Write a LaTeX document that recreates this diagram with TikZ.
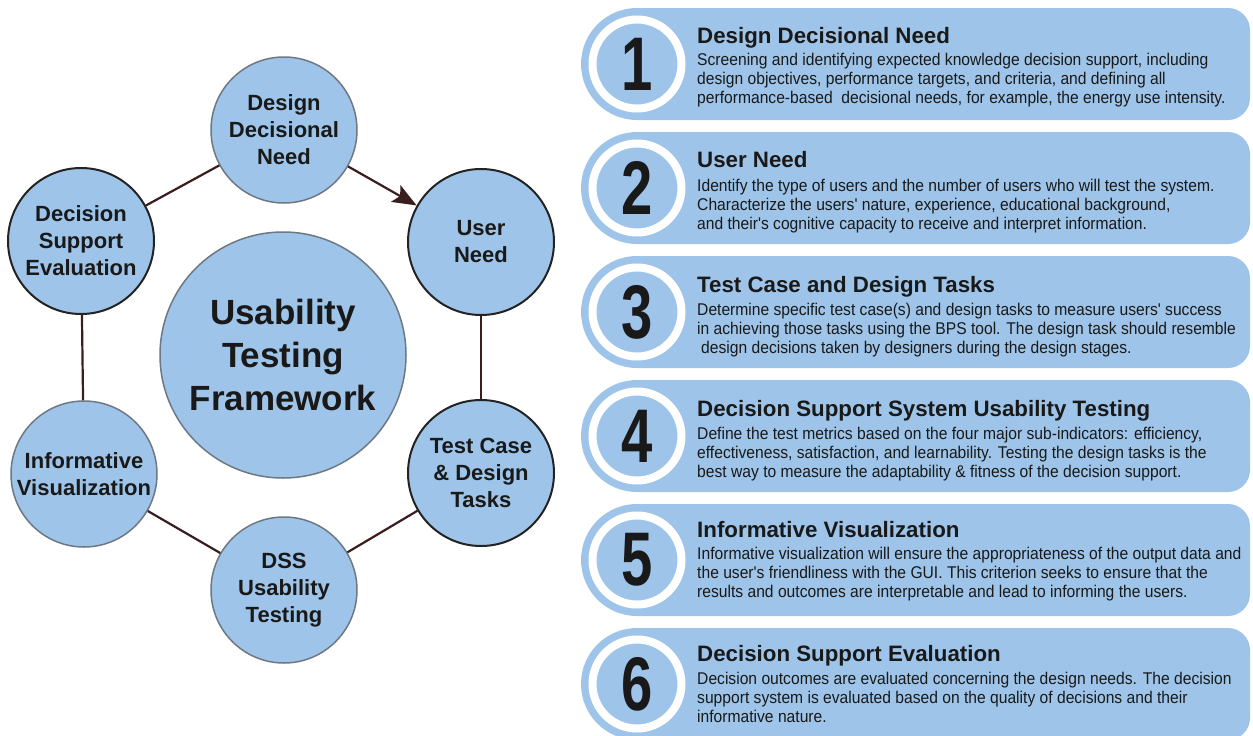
\documentclass[tikz,border=0pt]{standalone}
\usepackage{fontspec}
\setmainfont{Liberation Sans}
\newfontfamily\digitfamily{Liberation Sans}[FakeStretch=0.74]
\newfontfamily\bodyfamily{Liberation Sans}[FakeStretch=0.92]
\usetikzlibrary{arrows.meta}
\definecolor{cblue}{RGB}{158,197,233}
\definecolor{conn}{RGB}{58,30,30}
\definecolor{greyedge}{RGB}{110,120,130}
\definecolor{darkedge}{RGB}{35,35,35}
\definecolor{ink}{RGB}{25,25,25}
\newcommand{\titlefnt}{\fontsize{22.3}{26}\selectfont\bfseries}
\newcommand{\bodyfnt}{\bodyfamily\fontsize{17}{19.2}\selectfont}
\tikzset{
  hub/.style={circle, fill=cblue, draw=greyedge, line width=1.5pt, minimum size=146pt, inner sep=0pt, align=center, text=ink, font=\fontsize{22}{27}\selectfont\bfseries},
  hubdark/.style={hub, draw=darkedge, line width=2pt},
  core/.style={circle, fill=cblue, draw=greyedge, line width=1.5pt, minimum size=246pt, inner sep=0pt, align=center, text=ink, font=\fontsize{35}{43}\selectfont\bfseries},
  link/.style={draw=conn, line width=2.2pt},
  numtxt/.style={text=ink, font=\digitfamily\fontsize{76}{76}\selectfont\bfseries, inner sep=0pt},
  ttl/.style={anchor=base west, inner sep=0pt, text=ink, font=\titlefnt},
  bodytxt/.style={anchor=north west, inner sep=0pt, align=left, text=ink, font=\bodyfnt},
}
\begin{document}
\begin{tikzpicture}[x=1pt,y=-1pt]
\useasboundingbox (0,0) rectangle (1253,736);
\fill[white] (0,0) rectangle (1253,736);

% left cycle
\node[core] (core) at (283,355) {Usability\\Testing\\Framework};
\node[hub] (ddn) at (284,130) {Design\\Decisional\\Need};
\node[hubdark] (un) at (481,242) {User\\Need};
\node[hubdark] (tc) at (481,473) {Test Case\\\& Design\\Tasks};
\node[hub] (dss) at (284,590) {DSS\\Usability\\Testing};
\node[hub] (iv) at (84,474) {Informative\\Visualization};
\node[hubdark] (dse) at (81,241) {Decision\\Support\\Evaluation};

\draw[link,-{Stealth[length=24pt,width=19pt,inset=5pt]}] (ddn) -- (un);
\draw[link] (un) -- (tc);
\draw[link] (tc) -- (dss);
\draw[link] (dss) -- (iv);
\draw[link] (iv) -- (dse);
\draw[link] (dse) -- (ddn);

% right panels
\foreach \k/\num in {0/1,1/2,2/3,3/4,4/5,5/6}{
  \pgfmathsetmacro{\top}{8+124*\k}
  \pgfmathsetmacro{\bot}{\top+112}
  \pgfmathsetmacro{\mid}{\top+56}
  \fill[cblue, rounded corners=22pt] (615,\top) rectangle (1250,\bot);
  \fill[cblue] (637,\mid) circle (56);
  \draw[white, line width=8pt] (637,\mid) circle (44.5);
  \node[numtxt] (n\num) at (637,\mid) {\num};
}

\node[ttl] (t1) at (697,43) {Design Decisional Need};
\node[bodytxt] (b1) at (697,53) {Screening and identifying expected knowledge decision support, including\\design objectives, performance targets, and criteria, and defining all\\performance-based\ \ decisional needs, for example, the energy use intensity.};

\node[ttl] (t2) at (697,167) {User Need};
\node[bodytxt] (b2) at (697,179) {Identify the type of users and the number of users who will test the system.\\Characterize the users' nature, experience, educational background,\\and their's cognitive capacity to receive and interpret information.};

\node[ttl] (t3) at (697,292) {Test Case and Design Tasks};
\node[bodytxt] (b3) at (697,303) {Determine specific test case(s) and design tasks to measure users' success\\in achieving those tasks using the BPS tool. The design task should resemble\\\hspace*{4pt}design decisions taken by designers during the design stages.};

\node[ttl] (t4) at (697,416) {Decision Support System Usability Testing};
\node[bodytxt] (b4) at (697,427) {Define the test metrics based on the four major sub-indicators: efficiency,\\effectiveness, satisfaction, and learnability. Testing the design tasks is the\\best way to measure the adaptability \& fitness of the decision support.};

\node[ttl] (t5) at (697,537) {Informative Visualization};
\node[bodytxt] (b5) at (697,547) {Informative visualization will ensure the appropriateness of the output data and\\the user's friendliness with the GUI. This criterion seeks to ensure that the\\results and outcomes are interpretable and lead to informing the users.};

\node[ttl] (t6) at (697,661) {Decision Support Evaluation};
\node[bodytxt] (b6) at (697,672) {Decision outcomes are evaluated concerning the design needs. The decision\\support system is evaluated based on the quality of decisions and their\\informative nature.};
\end{tikzpicture}
\end{document}
